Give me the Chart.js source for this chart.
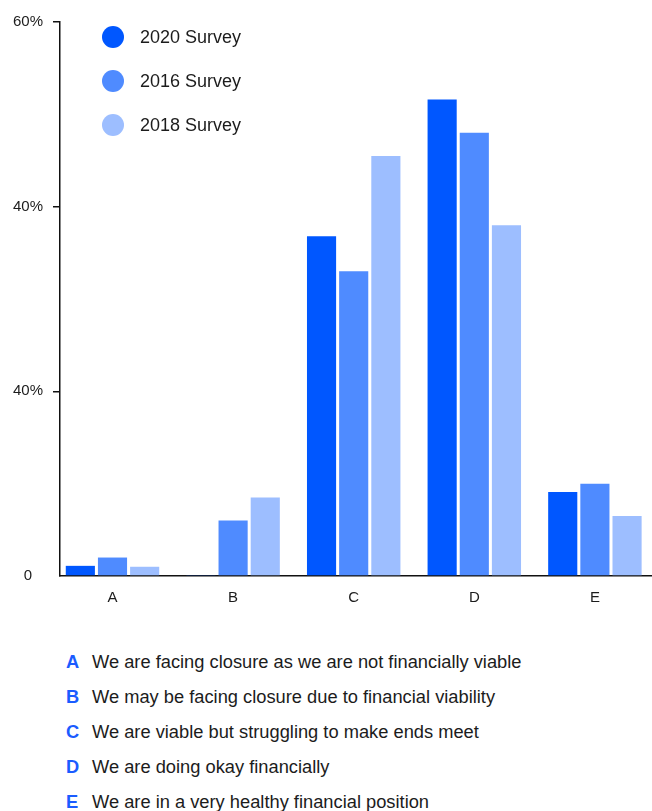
<!DOCTYPE html>
<html>
<head>
<meta charset="utf-8">
<script src="https://cdn.jsdelivr.net/npm/chart.js@4"></script>
<style>
  html, body { margin: 0; padding: 0; background: #fff; }
  body { width: 652px; height: 811px; overflow: hidden; font-family: 'Liberation Sans', Arial, sans-serif; color: #1c1c1c; }
  .wrap { position: relative; width: 652px; height: 620px; }
  #legend { position: absolute; left: 102px; top: 15px; }
  #legend .item { display: flex; align-items: center; height: 44px; margin-top: -22px; margin-bottom: 22px; }
  #legend .item:first-child { margin-top: 0; }
  #legend .dot { width: 22px; height: 22px; border-radius: 50%; margin-right: 16px; }
  #legend .txt { font-size: 18px; line-height: 22px; }
  #key { position: absolute; left: 66px; top: 650px; }
  #key .row { height: 35px; line-height: 24px; font-size: 18.3px; white-space: nowrap; }
  #key .letter { display: inline-block; width: 26px; font-weight: bold; color: #1a5cff; }
</style>
</head>
<body>
<div class="wrap">
  <canvas id="myChart" width="652" height="620"></canvas>
  <div id="legend"></div>
</div>
<div id="key"></div>
<script>
const categories = ['A', 'B', 'C', 'D', 'E'];
const seriesNames = ['2020 Survey', '2016 Survey', '2018 Survey'];
const survey2020 = [1.1, 0.1, 36.8, 51.6, 9.1];
const survey2016 = [2.0, 6.0, 33.0, 48.0, 10.0];
const survey2018 = [1.0, 8.5, 45.5, 38.0, 6.5];
const yTickLabels = ['0', '40%', '40%', '60%'];
const descriptions = [
  'We are facing closure as we are not financially viable',
  'We may be facing closure due to financial viability',
  'We are viable but struggling to make ends meet',
  'We are doing okay financially',
  'We are in a very healthy financial position',
];
const colors = ['#0057ff', '#4f8bff', '#9dbeff'];

const font = "'Liberation Sans', Arial, sans-serif";
const ink = '#1c1c1c';

const ctx = document.getElementById('myChart').getContext('2d');
const myChart = new Chart(ctx, {
  type: 'bar',
  data: {
    labels: categories,
    datasets: [survey2020, survey2016, survey2018].map((values, i) => ({
      label: seriesNames[i],
      data: values,
      backgroundColor: colors[i],
      categoryPercentage: 0.8,
      barPercentage: 0.906,
    })),
  },
  options: {
    responsive: false,
    animation: false,
    layout: { padding: { top: 22, right: 0, bottom: 0, left: 0 } },
    plugins: {
      legend: { display: false },
      tooltip: { enabled: false },
    },
    scales: {
      x: {
        // first group sits a little right of the y axis line
        afterBuildTicks: (scale) => {
          scale._startValue = -52.5 / 120.6;
          scale._valueRange = 592 / 120.6;
        },
        grid: { drawOnChartArea: false, drawTicks: false },
        border: { color: '#111', width: 1.5 },
        ticks: { padding: 13, color: ink, font: { family: font, size: 15 } },
      },
      y: {
        min: 0,
        max: 60,
        afterFit: (scale) => { scale.width = 60; },
        grid: {
          drawOnChartArea: false,
          tickLength: 7,
          lineWidth: 1.5,
          tickColor: (c) => (c.tick && c.tick.value === 0 ? 'rgba(0,0,0,0)' : '#111'),
        },
        border: { color: '#111', width: 1.5 },
        ticks: {
          stepSize: 20,
          padding: 10,
          crossAlign: 'center',
          color: ink,
          font: { family: font, size: 15 },
          callback: (value, index) => yTickLabels[index],
        },
      },
    },
  },
});

// legend in the top left corner of the plot
const legend = document.getElementById('legend');
myChart.data.datasets.forEach((ds) => {
  const item = document.createElement('div');
  item.className = 'item';
  item.innerHTML = '<span class="dot" style="background:' + ds.backgroundColor + '"></span><span class="txt">' + ds.label + '</span>';
  legend.appendChild(item);
});

// category key under the chart
const key = document.getElementById('key');
categories.forEach((c, i) => {
  const row = document.createElement('div');
  row.className = 'row';
  row.innerHTML = '<span class="letter">' + c + '</span>' + descriptions[i];
  key.appendChild(row);
});
</script>
</body>
</html>
